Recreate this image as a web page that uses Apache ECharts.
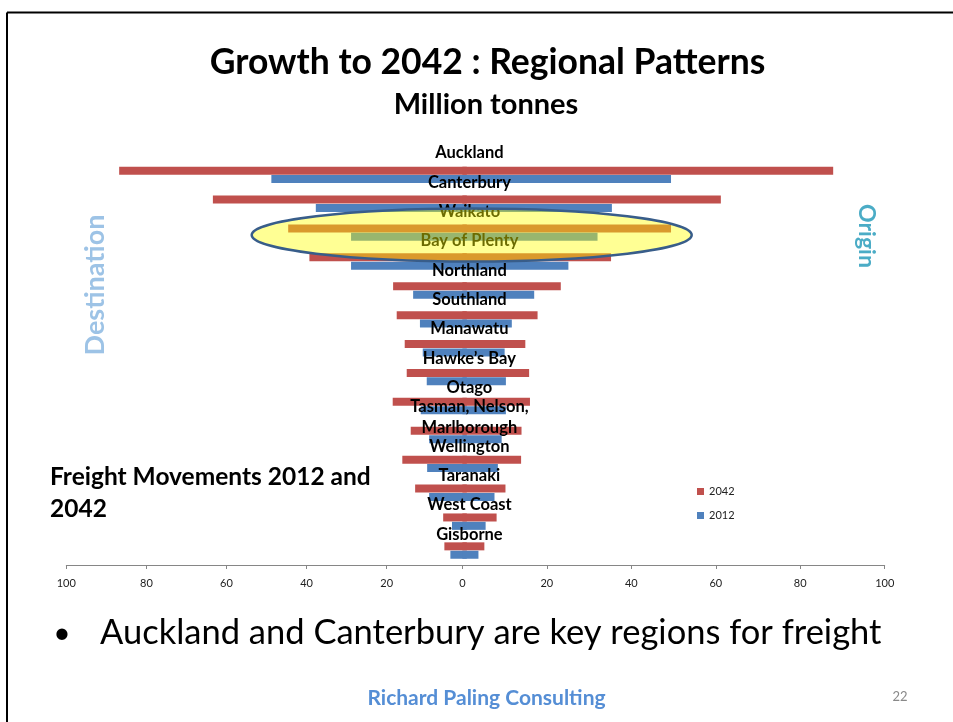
<!DOCTYPE html>
<html>
<head>
<meta charset="utf-8">
<script src="https://cdn.jsdelivr.net/npm/echarts@6/dist/echarts.min.js"></script>
<style>
  html, body { margin: 0; padding: 0; background: #ffffff; }
  #main { width: 953px; height: 722px; }
</style>
</head>
<body>
<div id="main"></div>
<script>
// regions, top to bottom
const regions = [
  'Auckland', 'Canterbury', 'Waikato', 'Bay of Plenty', 'Northland', 'Southland',
  'Manawatu', 'Hawke\u2019s Bay', 'Otago', 'Tasman, Nelson,\nMarlborough',
  'Wellington', 'Taranaki', 'West Coast', 'Gisborne'
];
// destination side (left), million tonnes
const destination2042 = [86.8, 63.4, 44.6, 39.3, 18.4, 17.5, 15.5, 15.0, 18.5, 14.0, 16.1, 12.9, 5.9, 5.6];
const destination2012 = [48.8, 37.7, 28.9, 28.9, 13.4, 11.7, 11.0, 10.0, 11.5, 9.4, 9.9, 9.4, 3.7, 4.1];
// origin side (right), million tonnes
const origin2042 = [87.8, 61.2, 49.4, 35.2, 23.3, 17.8, 14.9, 15.8, 16.0, 14.0, 13.9, 10.2, 8.1, 5.2];
const origin2012 = [49.4, 35.4, 32.0, 25.1, 17.0, 11.7, 10.0, 10.3, 10.3, 9.3, 8.4, 7.6, 5.5, 3.8];
const axisTicks = [0, 20, 40, 60, 80, 100];

const RED = '#C0504D';
const BLUE = '#4F81BD';
const FONT = 'Lato, "Open Sans", sans-serif';

const myChart = echarts.init(document.getElementById('main'));

const valueAxis = (gridIndex, inverse, showZero) => ({
  type: 'value',
  gridIndex,
  inverse,
  min: axisTicks[0],
  max: axisTicks[axisTicks.length - 1],
  interval: axisTicks[1] - axisTicks[0],
  splitLine: { show: false },
  axisLine: { show: true, lineStyle: { color: '#868686', width: 1 } },
  axisTick: { show: true, length: 4, lineStyle: { color: '#868686' } },
  axisLabel: { color: '#222', fontFamily: FONT, fontSize: 11, margin: 13, showMinLabel: showZero }
});

const barStyle = (color) => ({
  type: 'bar',
  barWidth: 8,
  barGap: '5%',
  itemStyle: { color },
  animation: false
});

const center = { textAlign: 'center', textVerticalAlign: 'middle', align: 'center', verticalAlign: 'middle' };

const options = {
  backgroundColor: '#ffffff',
  animation: false,
  grid: [
    { left: 66.3, top: 160.4, width: 400.5, height: 404.6 },   // destination
    { left: 462.4, top: 160.4, width: 422.3, height: 404.6 },  // origin
    { left: 462.4, top: 138.3, width: 422.3, height: 410.8 }   // region names, sit above their bars
  ],
  legend: {
    data: ['2042', '2012'],
    orient: 'vertical',
    left: 692,
    top: 481,
    itemWidth: 7,
    itemHeight: 7,
    itemGap: 13,
    icon: 'rect',
    selectedMode: false,
    textStyle: { fontFamily: FONT, fontSize: 11, color: '#222' }
  },
  xAxis: [
    valueAxis(0, true, false),
    valueAxis(1, false, true),
    { type: 'value', gridIndex: 2, show: false }
  ],
  yAxis: [
    { type: 'category', gridIndex: 0, inverse: true, data: regions, show: false },
    { type: 'category', gridIndex: 1, inverse: true, data: regions, show: false },
    {
      type: 'category', gridIndex: 2, inverse: true, data: regions, z: 5,
      axisLine: { show: false }, axisTick: { show: false },
      axisLabel: {
        interval: 0,
        margin: -7,
        align: 'center',
        verticalAlign: 'middle',
        fontFamily: FONT,
        fontWeight: 'bold',
        fontSize: 16.5,
        lineHeight: 21,
        color: '#000'
      }
    }
  ],
  series: [
    { ...barStyle(RED), name: '2042', xAxisIndex: 0, yAxisIndex: 0, data: destination2042 },
    { ...barStyle(BLUE), name: '2012', xAxisIndex: 0, yAxisIndex: 0, data: destination2012 },
    { ...barStyle(RED), name: '2042', xAxisIndex: 1, yAxisIndex: 1, data: origin2042 },
    { ...barStyle(BLUE), name: '2012', xAxisIndex: 1, yAxisIndex: 1, data: origin2012 }
  ],
  graphic: [
    // slide frame
    { type: 'line', shape: { x1: 7, y1: 12.5, x2: 953, y2: 12.5 }, style: { stroke: '#000', lineWidth: 2 }, z: 1 },
    { type: 'line', shape: { x1: 7, y1: 12.5, x2: 7, y2: 722 }, style: { stroke: '#000', lineWidth: 2 }, z: 1 },
    {
      type: 'text', x: 487.5, y: 63,
      style: { text: 'Growth to 2042 : Regional Patterns', font: 'bold 35.5px ' + FONT, fill: '#000', ...center }
    },
    {
      type: 'text', x: 486, y: 105,
      style: { text: 'Million tonnes', font: 'bold 29px ' + FONT, fill: '#000', ...center }
    },
    {
      type: 'text', x: 95, y: 285, rotation: Math.PI / 2,
      style: { text: 'Destination', font: 'bold 27px ' + FONT, fill: '#9DC3E6', ...center }
    },
    {
      type: 'text', x: 866, y: 236, rotation: -Math.PI / 2,
      style: { text: 'Origin', font: 'bold 23px ' + FONT, fill: '#4BACC6', ...center }
    },
    {
      type: 'text', x: 50, y: 493,
      style: { text: 'Freight Movements 2012 and\n2042', font: 'bold 24.5px ' + FONT, fill: '#000',
        lineHeight: 32, textAlign: 'left', textVerticalAlign: 'middle', align: 'left', verticalAlign: 'middle' }
    },
    {
      type: 'text', x: 62, y: 633,
      style: { text: '\u2022', font: '30px ' + FONT, fill: '#000', ...center }
    },
    {
      type: 'text', x: 100, y: 633,
      style: { text: 'Auckland and Canterbury are key regions for freight', font: '34.5px ' + FONT, fill: '#000',
        textAlign: 'left', textVerticalAlign: 'middle', align: 'left', verticalAlign: 'middle' }
    },
    {
      type: 'text', x: 486.5, y: 698,
      style: { text: 'Richard Paling Consulting', font: 'bold 21px ' + FONT, fill: '#558ED5', ...center }
    },
    {
      type: 'text', x: 900, y: 697,
      style: { text: '22', font: '13px ' + FONT, fill: '#898989', ...center }
    },
    // highlight round Bay of Plenty
    {
      type: 'ellipse', z: 100,
      shape: { cx: 471.7, cy: 235, rx: 220, ry: 26.5 },
      style: { fill: 'rgba(255,255,0,0.42)', stroke: '#385D8A', lineWidth: 2.5 }
    }
  ]
};

myChart.setOption(options);
window.onresize = function () {
  myChart.resize();
};
</script>
</body>
</html>
